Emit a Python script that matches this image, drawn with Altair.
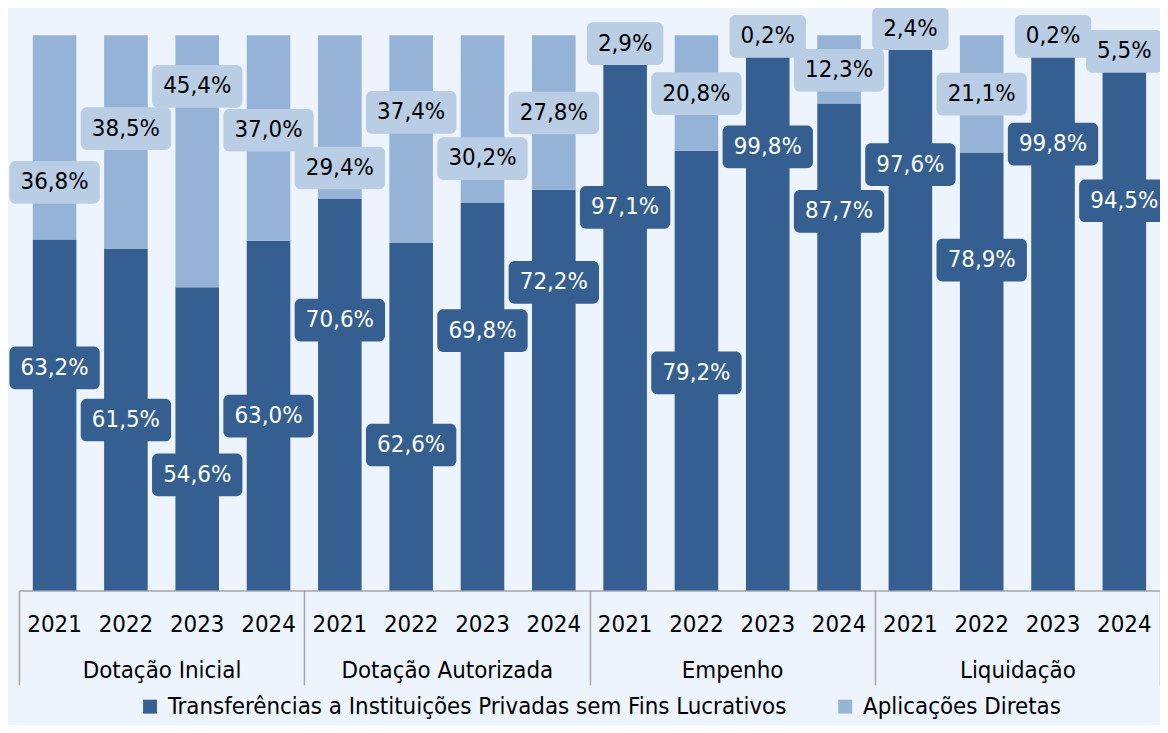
import altair as alt
import pandas as pd

groups = ["Dotação Inicial", "Dotação Autorizada", "Empenho", "Liquidação"]
years = ["2021", "2022", "2023", "2024"]
series = ["Transferências a Instituições Privadas sem Fins Lucrativos", "Aplicações Diretas"]

transf = [63.2, 61.5, 54.6, 63.0, 70.6, 62.6, 69.8, 72.2, 97.1, 79.2, 99.8, 87.7, 97.6, 78.9, 99.8, 94.5]
aplic = [36.8, 38.5, 45.4, 37.0, 29.4, 37.4, 30.2, 27.8, 2.9, 20.8, 0.2, 12.3, 2.4, 21.1, 0.2, 5.5]

# height (in % units) at which each data label sits
transf_label_at = [40.1, 30.7, 20.8, 31.4, 48.7, 26.2, 46.8, 55.5, 69.0, 39.2, 79.9, 68.3, 76.7, 59.5, 80.4, 70.2]
aplic_label_at = [73.5, 83.2, 90.8, 82.9, 76.1, 86.1, 77.8, 86.0, 98.5, 89.5, 99.8, 93.7, 101.2, 89.4, 99.8, 97.1]

DARK = "#365F91"
LIGHT = "#95B3D7"
LIGHT_BOX = "#B9CDE5"
BG = "#EEF4FD"
GRID = "#A6A6A6"
FONT = "DejaVu Sans Condensed, DejaVu Sans"
FS = 24

keys = [f"{g}|{y}" for g in groups for y in years]

rows = []
for i, k in enumerate(keys):
    g, y = k.split("|")
    for s_idx, (vals, lab_at) in enumerate([(transf, transf_label_at), (aplic, aplic_label_at)]):
        v = vals[i]
        lab = f"{v:.1f}".replace(".", ",") + "%"
        rows.append(dict(key=k, group=g, year=y, series=series[s_idx], order=s_idx,
                         value=v, label=lab, label_at=lab_at[i],
                         box="short" if len(lab) <= 4 else "long"))
df = pd.DataFrame(rows)


def rounded_box(w, h, r):
    s = w / 2.0
    hx = 1.0
    hy = (h / 2.0) / s
    rr = r / s
    return (f"M {-hx+rr},{-hy} L {hx-rr},{-hy} A {rr} {rr} 0 0 1 {hx},{-hy+rr} "
            f"L {hx},{hy-rr} A {rr} {rr} 0 0 1 {hx-rr},{hy} "
            f"L {-hx+rr},{hy} A {rr} {rr} 0 0 1 {-hx},{hy-rr} "
            f"L {-hx},{-hy+rr} A {rr} {rr} 0 0 1 {-hx+rr},{-hy} Z")


LONG_W, SHORT_W, BOX_H = 91, 77, 43

xscale = alt.Scale(domain=keys, paddingInner=0, paddingOuter=0)
yscale = alt.Scale(domain=[0, 100], nice=False, zero=True)

x_year = alt.X(
    "key:N", scale=xscale, sort=keys, title=None,
    axis=alt.Axis(orient="bottom", labelExpr="split(datum.value, '|')[1]", ticks=False,
                  domain=True, domainColor=GRID, domainWidth=1.5, grid=False,
                  labelFont=FONT, labelFontSize=FS, labelColor="black", labelAngle=0,
                  labelBaseline="alphabetic", labelPadding=41),
)

base = alt.Chart(df)

bars = base.mark_bar(width=alt.RelativeBandSize(0.611)).encode(
    x=x_year,
    y=alt.Y("value:Q", stack="zero", scale=yscale, axis=None),
    color=alt.Color(
        "series:N",
        scale=alt.Scale(domain=series, range=[DARK, LIGHT]),
        legend=alt.Legend(
            title=None, orient="none", direction="horizontal", legendX=120, legendY=664,
            symbolType="square", symbolSize=196, symbolStrokeWidth=0, labelOffset=6,
            labelFont=FONT, labelFontSize=FS, labelColor="black", columnPadding=47,
            padding=0, labelLimit=800,
        ),
    ),
    order=alt.Order("order:Q"),
)

boxes = base.mark_point(filled=True, opacity=1, strokeWidth=0).encode(
    x=alt.X("key:N", scale=xscale, sort=keys),
    y=alt.Y("label_at:Q", stack=None, scale=yscale),
    shape=alt.Shape("box:N", scale=alt.Scale(domain=["long", "short"],
                                              range=[rounded_box(LONG_W, BOX_H, 6),
                                                     rounded_box(SHORT_W, BOX_H, 6)]),
                    legend=None),
    size=alt.Size("box:N", scale=alt.Scale(domain=["long", "short"],
                                            range=[LONG_W ** 2, SHORT_W ** 2]),
                  legend=None),
    color=alt.condition(alt.datum.order == 0, alt.value(DARK), alt.value(LIGHT_BOX)),
)

texts = base.mark_text(font=FONT, fontSize=FS, baseline="middle", align="center").encode(
    x=alt.X("key:N", scale=xscale, sort=keys),
    y=alt.Y("label_at:Q", stack=None, scale=yscale),
    text="label:N",
    color=alt.condition(alt.datum.order == 0, alt.value("white"), alt.value("black")),
)

main = alt.layer(bars, boxes, texts)

grp_df = pd.DataFrame({"group": groups})
grp = alt.Chart(grp_df).mark_point(opacity=0).encode(
    x=alt.X(
        "group:N", sort=groups, title=None,
        scale=alt.Scale(domain=groups, paddingInner=0, paddingOuter=0),
        axis=alt.Axis(orient="bottom", domain=False, ticks=True, tickBand="extent",
                      tickSize=95, tickColor=GRID, tickWidth=1.5, grid=False,
                      labelFont=FONT, labelFontSize=FS, labelColor="black", labelAngle=0,
                      labelBaseline="alphabetic", labelPadding=-7, labelLimit=600),
    ),
)

chart = (
    alt.layer(main, grp)
    .resolve_scale(x="independent")
    .properties(
        width=1149, height=559,
        autosize=alt.AutoSizeParams(type="none"),
        padding={"left": 11, "top": 25, "right": 0, "bottom": 133},
        background=BG,
    )
    .configure_view(stroke=None)
)

chart.save("out.html", embed_options={"renderer": "svg", "actions": False})
